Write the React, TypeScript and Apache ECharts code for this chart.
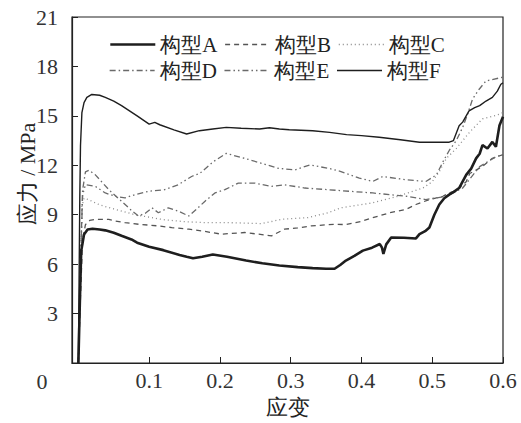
import React, { useEffect, useRef } from "react";
import * as echarts from "echarts";

const seriesNames = ["构型A", "构型B", "构型C", "构型D", "构型E", "构型F"];
const xTickValues = [0.1, 0.2, 0.3, 0.4, 0.5, 0.6];
const yTickLabels = [0, 3, 6, 9, 12, 15, 18, 21];

const dataA: [number, number][] = [
  [0, 0], [0.002, 3.5], [0.004, 6.8], [0.008, 7.8], [0.013, 8.1], [0.02, 8.15], [0.03, 8.1], [0.038, 8.05],
  [0.05, 7.9], [0.061, 7.72], [0.075, 7.5], [0.083, 7.3], [0.1, 7.05], [0.12, 6.85], [0.143, 6.56], [0.153, 6.45],
  [0.162, 6.36], [0.175, 6.45], [0.19, 6.58], [0.21, 6.45], [0.237, 6.22], [0.26, 6.05], [0.284, 5.92], [0.31, 5.82],
  [0.331, 5.76], [0.35, 5.72], [0.362, 5.72], [0.37, 5.95], [0.378, 6.22], [0.39, 6.5], [0.402, 6.82], [0.415, 7.0],
  [0.426, 7.22], [0.429, 7.0], [0.431, 6.62], [0.435, 7.2], [0.442, 7.62], [0.46, 7.6], [0.477, 7.56], [0.482, 7.82],
  [0.49, 8.0], [0.496, 8.22], [0.503, 9.0], [0.51, 9.62], [0.517, 10.0], [0.524, 10.22], [0.531, 10.4], [0.538, 10.62],
  [0.548, 11.42], [0.555, 11.8], [0.562, 12.42], [0.567, 12.7], [0.571, 13.22], [0.578, 13.02], [0.585, 13.42],
  [0.59, 13.12], [0.595, 14.42], [0.6, 14.95],
];

const dataB: [number, number][] = [
  [0, 0], [0.003, 4], [0.006, 7.5], [0.01, 8.4], [0.016, 8.65], [0.024, 8.72], [0.043, 8.72], [0.052, 8.62],
  [0.066, 8.52], [0.085, 8.42], [0.113, 8.32], [0.132, 8.22], [0.156, 8.12], [0.174, 8.02], [0.202, 7.82],
  [0.235, 7.92], [0.273, 7.72], [0.291, 8.12], [0.31, 8.2], [0.329, 8.32], [0.362, 8.42], [0.378, 8.4], [0.4, 8.6],
  [0.416, 8.82], [0.44, 9.12], [0.463, 9.32], [0.477, 9.62], [0.496, 9.92], [0.515, 10.12], [0.524, 10.32],
  [0.535, 10.5], [0.548, 11.0], [0.553, 11.5], [0.57, 11.9], [0.585, 12.42], [0.6, 12.65],
];

const dataC: [number, number][] = [
  [0, 0], [0.003, 5], [0.005, 9.5], [0.008, 10.0], [0.015, 9.9], [0.03, 9.6], [0.05, 9.35], [0.08, 9.0],
  [0.1, 8.85], [0.12, 8.7], [0.15, 8.58], [0.179, 8.52], [0.211, 8.52], [0.259, 8.46], [0.287, 8.72], [0.324, 8.82],
  [0.353, 9.12], [0.371, 9.42], [0.416, 9.72], [0.45, 10.1], [0.487, 10.62], [0.5, 11.0], [0.51, 11.62],
  [0.52, 12.42], [0.534, 13.02], [0.553, 14.02], [0.571, 14.82], [0.59, 15.02], [0.6, 15.2],
];

const dataD: [number, number][] = [
  [0, 0], [0.003, 6], [0.006, 10.5], [0.01, 11.6], [0.015, 11.7], [0.024, 11.42], [0.043, 10.52], [0.061, 9.82],
  [0.076, 9.22], [0.085, 8.92], [0.095, 9.1], [0.104, 9.42], [0.113, 9.12], [0.127, 9.42], [0.141, 9.22],
  [0.156, 8.92], [0.164, 9.22], [0.179, 9.82], [0.193, 10.32], [0.207, 10.52], [0.226, 10.92], [0.249, 10.92],
  [0.273, 10.72], [0.291, 10.82], [0.32, 10.62], [0.353, 10.52], [0.371, 10.46], [0.416, 10.32], [0.463, 10.12],
  [0.491, 9.92], [0.52, 10.12], [0.543, 10.62], [0.567, 11.92], [0.59, 12.52], [0.6, 12.65],
];

const dataE: [number, number][] = [
  [0, 0], [0.003, 6], [0.006, 10.2], [0.01, 10.82], [0.024, 10.72], [0.038, 10.32], [0.052, 10.12], [0.066, 10.02],
  [0.08, 10.22], [0.099, 10.42], [0.122, 10.52], [0.141, 10.82], [0.16, 11.32], [0.172, 11.52], [0.19, 12.2],
  [0.209, 12.72], [0.235, 12.42], [0.259, 12.12], [0.282, 11.82], [0.306, 11.72], [0.327, 12.02], [0.353, 11.82],
  [0.371, 11.62], [0.397, 11.22], [0.416, 11.02], [0.43, 11.32], [0.463, 11.12], [0.491, 11.02], [0.506, 11.42],
  [0.515, 12.2], [0.524, 12.9], [0.534, 13.5], [0.543, 14.3], [0.55, 15.1], [0.557, 16.02], [0.566, 16.6],
  [0.576, 17.12], [0.597, 17.32], [0.6, 17.35],
];

const dataF: [number, number][] = [
  [0, 0], [0.001, 5], [0.002, 10], [0.003, 13.2], [0.005, 15.2], [0.008, 15.8], [0.012, 16.12], [0.019, 16.3],
  [0.03, 16.25], [0.038, 16.12], [0.05, 15.9], [0.061, 15.62], [0.083, 15.0], [0.1, 14.5], [0.108, 14.6],
  [0.115, 14.46], [0.135, 14.15], [0.153, 13.9], [0.171, 14.1], [0.19, 14.2], [0.209, 14.3], [0.23, 14.25],
  [0.256, 14.2], [0.27, 14.28], [0.284, 14.2], [0.298, 14.16], [0.331, 14.1], [0.355, 14.0], [0.379, 13.86],
  [0.4, 13.8], [0.425, 13.7], [0.455, 13.55], [0.482, 13.4], [0.5, 13.4], [0.524, 13.4], [0.53, 13.5],
  [0.538, 14.4], [0.543, 14.62], [0.552, 15.3], [0.56, 15.5], [0.567, 15.62], [0.576, 15.9], [0.585, 16.12],
  [0.592, 16.5], [0.597, 16.92], [0.6, 17.0],
];

const allData = [dataA, dataB, dataC, dataD, dataE, dataF];

const FONT = "Liberation Serif";

const lineStyles: any[] = [
  { color: "#1e1e1e", width: 2.6, type: "solid" },
  { color: "#555555", width: 1.3, type: [5, 4] },
  { color: "#8a8a8a", width: 1.3, type: [1, 3] },
  { color: "#6a6a6a", width: 1.3, type: [6, 3, 1.5, 3] },
  { color: "#6a6a6a", width: 1.3, type: [6, 3, 1.5, 3, 1.5, 3] },
  { color: "#1e1e1e", width: 1.4, type: "solid" },
];

const legendBase = {
  left: 109,
  width: 400,
  padding: 0,
  itemWidth: 45,
  itemHeight: 14,
  itemGap: 7,
  textStyle: { fontFamily: FONT, fontSize: 21, color: "#222", width: 60 },
};

const legendItem = (i: number) => ({
  name: seriesNames[i],
  lineStyle: { ...lineStyles[i] },
  itemStyle: { color: lineStyles[i].color, opacity: 0, borderWidth: 0 },
});

export default function App() {
  const ref = useRef<HTMLDivElement>(null);
  useEffect(() => {
    if (!ref.current) return;
    document.body.style.margin = "0";
    const chart = echarts.init(ref.current, undefined, { renderer: "svg" });
    chart.setOption({
      animation: false,
      backgroundColor: "#ffffff",
      textStyle: { fontFamily: FONT },
      grid: {
        left: 72,
        right: 18,
        top: 17,
        bottom: 56,
        show: true,
        borderColor: "#222",
        borderWidth: 1.2,
        backgroundColor: "transparent",
      },
      legend: [
        { ...legendBase, top: 34, data: [0, 1, 2].map(legendItem) },
        { ...legendBase, top: 60, data: [3, 4, 5].map(legendItem) },
      ],
      xAxis: {
        type: "value",
        min: -0.009,
        max: 0.6,
        axisLine: { show: true, onZero: false, lineStyle: { color: "#222", width: 1.2 } },
        axisTick: { show: true, inside: true, length: 6, customValues: xTickValues, lineStyle: { color: "#222" } },
        axisLabel: {
          customValues: xTickValues,
          fontFamily: FONT,
          fontSize: 22,
          color: "#333",
          margin: 6,
          formatter: (v: number) => v.toFixed(1),
        },
        splitLine: { show: false },
        name: "应变",
        nameLocation: "middle",
        nameGap: 33,
        nameTextStyle: { fontFamily: FONT, fontSize: 22, color: "#222" },
      },
      yAxis: {
        type: "value",
        min: 0,
        max: 21,
        interval: 3,
        axisLine: { show: true, onZero: false, lineStyle: { color: "#222", width: 1.2 } },
        axisTick: { show: true, inside: true, length: 6, lineStyle: { color: "#222" } },
        axisLabel: {
          fontFamily: FONT,
          fontSize: 22,
          color: "#333",
          margin: 14,
          formatter: (v: number) => (v === yTickLabels[0] ? "" : String(v)),
        },
        splitLine: { show: false },
      },
      graphic: [
        {
          type: "text",
          x: 42,
          y: 381,
          style: { text: String(yTickLabels[0]), fontFamily: FONT, fontSize: 22, fill: "#333", align: "center", verticalAlign: "middle" },
        },
        {
          type: "text",
          x: 27,
          y: 174,
          rotation: Math.PI / 2,
          style: { text: "应力 / MPa", fontFamily: FONT, fontSize: 22, fill: "#222", align: "center", verticalAlign: "middle" },
        },
      ],
      series: allData.map((d, i) => ({
        name: seriesNames[i],
        type: "line",
        data: d,
        symbol: "none",
        showSymbol: false,
        lineStyle: lineStyles[i],
        itemStyle: { color: lineStyles[i].color },
        z: i === 0 || i === 5 ? 3 : 2,
      })),
    });
    return () => chart.dispose();
  }, []);
  return <div ref={ref} style={{ width: 521, height: 423 }} />;
}
